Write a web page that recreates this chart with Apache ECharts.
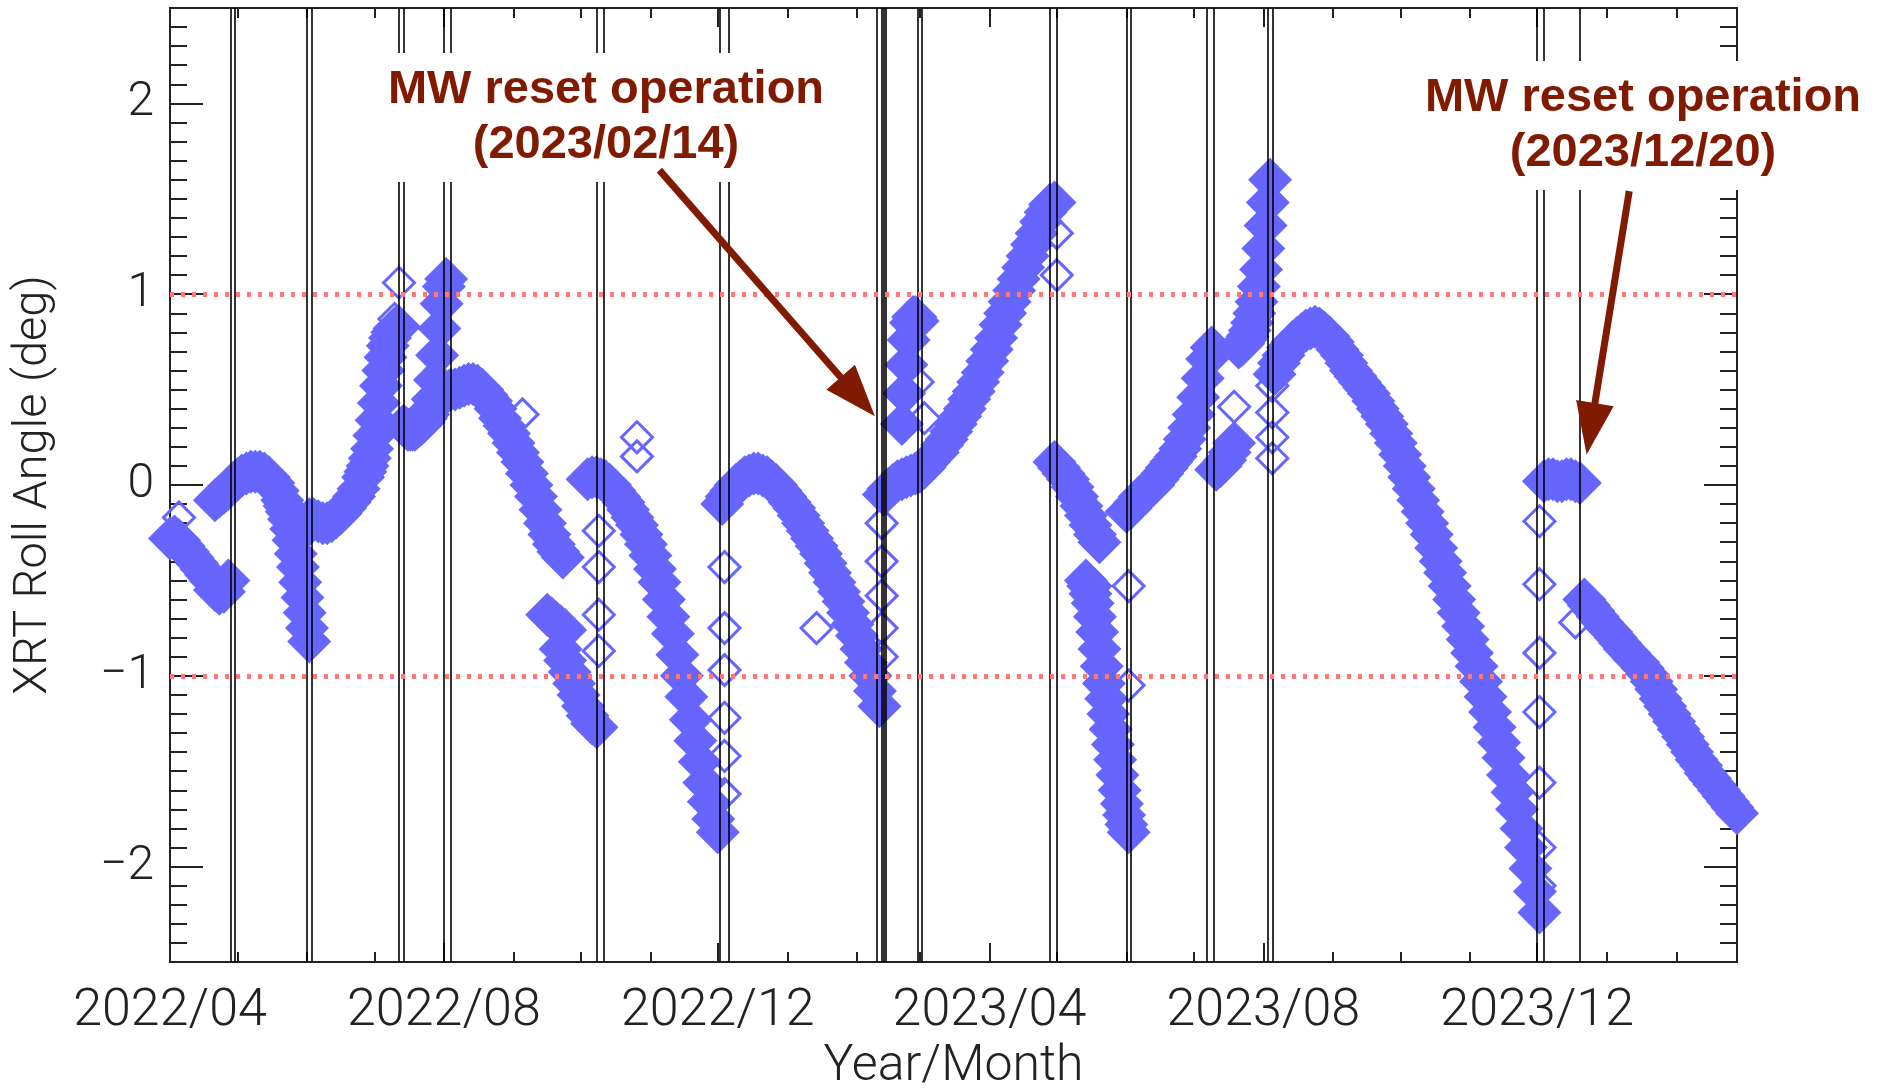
<!DOCTYPE html>
<html>
<head>
<meta charset="utf-8">
<script src="https://cdn.jsdelivr.net/npm/echarts@6.0.0/dist/echarts.min.js"></script>
<style>
html, body { margin: 0; padding: 0; background: #fff; }
#chart { width: 1881px; height: 1088px; }
</style>
</head>
<body>
<div id="chart"></div>
<script>
// axis range and labelled months
var axisStart = '2022-04-01';
var axisEnd = '2024-02-28';
var labelMonths = ['2022-04-01', '2022-08-01', '2022-12-01', '2023-04-01', '2023-08-01', '2023-12-01'];
var yLabels = [-2, -1, 0, 1, 2];
var limitLines = [1, -1];

// black vertical event lines
var eventDates = ['2022-04-28', '2022-04-30', '2022-06-01', '2022-06-03', '2022-07-12', '2022-07-14',
    '2022-08-01', '2022-08-04', '2022-10-08', '2022-10-11', '2022-12-02', '2022-12-06',
    '2023-02-10', '2023-02-12', '2023-02-13', '2023-02-14', '2023-02-28', '2023-03-02',
    '2023-04-28', '2023-05-01', '2023-06-01', '2023-06-03', '2023-07-07', '2023-07-10',
    '2023-08-03', '2023-08-05', '2023-12-01', '2023-12-04', '2023-12-20'];

// roll angle readings: each run starts at a date, one value every step days
var segStart = ['2022-04-01', '2022-04-21', '2022-05-22', '2022-06-02', '2022-06-27', '2022-07-14',
    '2022-08-04', '2022-09-16', '2022-09-22', '2022-10-04', '2022-12-03', '2023-02-13',
    '2023-02-21', '2023-03-03', '2023-04-30', '2023-05-14', '2023-06-01', '2023-07-11',
    '2023-07-21', '2023-08-06', '2023-12-04', '2023-12-22'];
var segStep = [2, 2, 1, 2, 1, 1, 2, 2, 2, 2, 2, 2, 1, 2, 2, 1, 2, 2, 1, 2, 2, 2];
var segValues = [
    [-0.28, -0.27, -0.29, -0.32, -0.35, -0.38, -0.41, -0.44, -0.47, -0.50, -0.55, -0.57, -0.56, -0.50],
    [-0.08, -0.06, -0.04, -0.02, 0.01, 0.03, 0.05, 0.06, 0.07, 0.07, 0.07, 0.06, 0.04, 0.01, -0.03, -0.08],
    [-0.11, -0.14, -0.18, -0.23, -0.29, -0.36, -0.43, -0.51, -0.59, -0.67, -0.75, -0.82],
    [-0.18, -0.18, -0.19, -0.20, -0.20, -0.19, -0.17, -0.15, -0.12, -0.09, -0.06, -0.02, 0.04],
    [0.07, 0.10, 0.14, 0.19, 0.26, 0.34, 0.43, 0.52, 0.60, 0.67, 0.73, 0.77, 0.80, 0.82, 0.83, 0.83],
    [0.31, 0.30, 0.29, 0.29, 0.29, 0.29, 0.30, 0.31, 0.32, 0.33, 0.35, 0.37, 0.40, 0.45, 0.55, 0.68, 0.82, 0.95, 1.04, 1.08],
    [0.50, 0.50, 0.51, 0.52, 0.53, 0.53, 0.52, 0.50, 0.47, 0.44, 0.40, 0.35, 0.31, 0.27, 0.22, 0.17, 0.12, 0.06, 0.00, -0.06, -0.13, -0.20, -0.26, -0.31, -0.35, -0.38],
    [-0.68, -0.70, -0.72, -0.74, -0.76],
    [-0.86, -0.92, -0.98, -1.04, -1.10, -1.16, -1.21, -1.25, -1.27],
    [0.03, 0.04, 0.04, 0.03, 0.02, 0.00, -0.03, -0.06, -0.09, -0.13, -0.17, -0.21, -0.26, -0.31, -0.37, -0.44, -0.51, -0.60, -0.69, -0.78, -0.89, -1.00, -1.11, -1.23, -1.34, -1.45, -1.56, -1.66, -1.75, -1.82],
    [-0.10, -0.06, -0.03, 0.00, 0.02, 0.04, 0.05, 0.06, 0.06, 0.05, 0.04, 0.02, 0.00, -0.03, -0.06, -0.09, -0.12, -0.16, -0.20, -0.24, -0.28, -0.32, -0.36, -0.41, -0.46, -0.51, -0.56, -0.61, -0.67, -0.73, -0.79, -0.86, -0.93, -1.00, -1.08, -1.16],
    [-0.05, -0.02, 0.00, 0.02, 0.03, 0.04, 0.05, 0.06, 0.07],
    [0.32, 0.48, 0.63, 0.76, 0.85, 0.88, 0.88, 0.86],
    [0.09, 0.12, 0.15, 0.17, 0.21, 0.24, 0.28, 0.32, 0.36, 0.40, 0.45, 0.49, 0.54, 0.59, 0.65, 0.71, 0.77, 0.84, 0.90, 0.96, 1.02, 1.08, 1.14, 1.20, 1.26, 1.32, 1.38, 1.43, 1.47, 1.48],
    [0.12, 0.09, 0.06, 0.03, -0.01, -0.06, -0.11, -0.16, -0.21, -0.26, -0.30],
    [-0.50, -0.53, -0.57, -0.62, -0.69, -0.77, -0.86, -0.95, -1.04, -1.12, -1.20, -1.28, -1.36, -1.44, -1.52, -1.60, -1.67, -1.73, -1.78, -1.82],
    [-0.14, -0.12, -0.09, -0.06, -0.04, -0.02, 0.00, 0.03, 0.06, 0.09, 0.12, 0.15, 0.19, 0.24, 0.30, 0.37, 0.46, 0.56, 0.66, 0.72],
    [0.08, 0.10, 0.13, 0.17, 0.22],
    [0.72, 0.73, 0.74, 0.76, 0.78, 0.81, 0.85, 0.90, 0.96, 1.04, 1.13, 1.24, 1.36, 1.48, 1.60],
    [0.58, 0.64, 0.68, 0.72, 0.75, 0.77, 0.79, 0.81, 0.82, 0.83, 0.82, 0.80, 0.78, 0.75, 0.71, 0.68, 0.64, 0.60, 0.57, 0.54,
     0.51, 0.48, 0.44, 0.40, 0.36, 0.32, 0.27, 0.22, 0.16, 0.10, 0.04, -0.02, -0.08, -0.14, -0.20, -0.26, -0.33, -0.40, -0.46, -0.53,
     -0.60, -0.67, -0.74, -0.81, -0.88, -0.95, -1.03, -1.11, -1.19, -1.27, -1.35, -1.43, -1.52, -1.61, -1.70, -1.80, -1.90, -2.01, -2.13, -2.24],
    [0.02, 0.03, 0.03, 0.02, 0.02, 0.03, 0.03, 0.02, 0.01],
    [-0.60, -0.63, -0.66, -0.69, -0.72, -0.75, -0.77, -0.80, -0.83, -0.86, -0.88, -0.91, -0.93, -0.96, -0.99, -1.03, -1.07, -1.12, -1.16, -1.20,
     -1.24, -1.28, -1.32, -1.36, -1.40, -1.44, -1.47, -1.51, -1.54, -1.57, -1.60, -1.63, -1.66, -1.69, -1.72]
];

// isolated (hollow) diamonds
var hollowDates = ['2022-04-05', '2022-07-12', '2022-07-10', '2022-09-05',
    '2022-10-09', '2022-10-09', '2022-10-09', '2022-10-09', '2022-10-26', '2022-10-26',
    '2022-12-04', '2022-12-04', '2022-12-04', '2022-12-04', '2022-12-04', '2022-12-04', '2023-01-14',
    '2023-02-12', '2023-02-12', '2023-02-12', '2023-02-12', '2023-02-12', '2023-02-28', '2023-03-03',
    '2023-05-01', '2023-05-01', '2023-05-18', '2023-06-02', '2023-06-02', '2023-07-19',
    '2023-08-05', '2023-08-05', '2023-08-05', '2023-08-05',
    '2023-12-02', '2023-12-02', '2023-12-02', '2023-12-02', '2023-12-02', '2023-12-02', '2023-12-02', '2023-12-18'];
var hollowValues = [-0.17, 1.06, 0.87, 0.37,
    -0.24, -0.43, -0.68, -0.87, 0.25, 0.15,
    -0.43, -0.75, -0.97, -1.22, -1.42, -1.62, -0.75,
    -0.2, -0.4, -0.58, -0.75, -0.9, 0.54, 0.35,
    1.32, 1.10, -0.53, -0.53, -1.05, 0.41,
    0.52, 0.38, 0.25, 0.14,
    -0.19, -0.52, -0.88, -1.19, -1.56, -1.9, -2.1, -0.72];

// annotations, anchored in data space
var noteTexts = ['MW reset operation\n(2023/02/14)', 'MW reset operation\n(2023/12/20)'];
var arrowFrom = [['2022-11-05', 1.65], ['2024-01-11', 1.54]];
var arrowTo = [['2023-02-09', 0.36], ['2023-12-23', 0.16]];

var DAY = 86400000;
function toTime(s) {
    var p = s.split('-');
    return Date.UTC(+p[0], +p[1] - 1, +p[2]);
}

var tMin = toTime(axisStart);
var tMax = toTime(axisEnd);

var bandData = [];
for (var i = 0; i < segStart.length; i++) {
    var t0 = toTime(segStart[i]);
    for (var j = 0; j < segValues[i].length; j++) {
        bandData.push([t0 + j * segStep[i] * DAY, segValues[i][j]]);
    }
}
var hollowData = hollowDates.map(function (d, k) { return [toTime(d), hollowValues[k]]; });

// month ticks
var monthTicks = [];
var md = new Date(tMin);
while (md.getTime() <= tMax) {
    monthTicks.push(md.getTime());
    md = new Date(Date.UTC(md.getUTCFullYear(), md.getUTCMonth() + 1, 1));
}
var majorX = labelMonths.map(toTime);

var minorY = [];
for (var k = -24; k <= 24; k++) {
    if (k % 10 !== 0) minorY.push(k / 10);
}

var INK = '#222';
var BLUE = '#6666ff';
var RED = '#801a00';
var tickFont = { fontFamily: 'Roboto', fontWeight: 300, color: INK };

function fmtMonth(v) {
    var d = new Date(v);
    var m = d.getUTCMonth() + 1;
    return d.getUTCFullYear() + '/' + (m < 10 ? '0' + m : m);
}
function fmtY(v) {
    return v < 0 ? '\u2212' + Math.abs(v) : String(v);
}

function xAxisCfg(pos, ticks, len, withLabels) {
    var a = {
        type: 'value', position: pos, min: tMin, max: tMax,
        splitLine: { show: false },
        axisLine: { show: true, onZero: false, lineStyle: { color: INK, width: 2 } },
        axisTick: { show: true, inside: true, length: len, customValues: ticks, lineStyle: { color: INK, width: 2 } },
        axisLabel: { show: false }
    };
    if (withLabels) {
        a.axisLabel = Object.assign({ show: true, customValues: ticks, formatter: fmtMonth, fontSize: 52, margin: 24 }, tickFont);
        a.name = 'Year/Month';
        a.nameLocation = 'middle';
        a.nameGap = 74;
        a.nameTextStyle = Object.assign({ fontSize: 50 }, tickFont);
    }
    return a;
}
function yAxisCfg(pos, ticks, len, withLabels) {
    var a = {
        type: 'value', position: pos, min: -2.5, max: 2.5,
        splitLine: { show: false },
        axisLine: { show: true, onZero: false, lineStyle: { color: INK, width: 2 } },
        axisTick: { show: true, inside: true, length: len, customValues: ticks, lineStyle: { color: INK, width: 2 } },
        axisLabel: { show: false }
    };
    if (withLabels) {
        a.axisLabel = Object.assign({ show: true, customValues: ticks, formatter: fmtY, fontSize: 48, margin: 16 }, tickFont);
        a.name = 'XRT Roll Angle (deg)';
        a.nameLocation = 'middle';
        a.nameRotate = 90;
        a.nameGap = 112;
        a.nameTextStyle = Object.assign({ fontSize: 47 }, tickFont);
    }
    return a;
}

var markData = eventDates.map(function (d) {
    return { xAxis: toTime(d), lineStyle: { color: '#000', width: 1.6, type: 'solid' } };
}).concat(limitLines.map(function (v) {
    return { yAxis: v, lineStyle: { color: '#ff7878', width: 5, type: [4, 7] } };
}));

var chart = echarts.init(document.getElementById('chart'));
var option = {
    animation: false,
    backgroundColor: '#fff',
    grid: { left: 170, right: 144, top: 8, bottom: 126, outerBoundsMode: 'none', containLabel: false },
    xAxis: [
        xAxisCfg('bottom', monthTicks, 10, false),
        xAxisCfg('bottom', majorX, 19, true),
        xAxisCfg('top', monthTicks, 10, false),
        xAxisCfg('top', majorX, 19, false)
    ],
    yAxis: [
        yAxisCfg('left', minorY, 17, false),
        yAxisCfg('left', yLabels, 33, true),
        yAxisCfg('right', minorY, 17, false),
        yAxisCfg('right', yLabels, 33, false)
    ],
    series: [
        {
            type: 'scatter', xAxisIndex: 0, yAxisIndex: 0, silent: true,
            symbol: 'diamond', symbolSize: 44,
            itemStyle: { color: BLUE, opacity: 1 },
            data: bandData
        },
        {
            type: 'scatter', xAxisIndex: 0, yAxisIndex: 0, silent: true,
            symbol: 'diamond', symbolSize: 31,
            itemStyle: { color: 'rgba(0,0,0,0)', borderColor: BLUE, borderWidth: 3, opacity: 1 },
            data: hollowData,
            markLine: {
                silent: true, symbol: ['none', 'none'], label: { show: false },
                animation: false, data: markData
            }
        }
    ]
};
chart.setOption(option);

// arrows and notes
var graphics = [];
var notePos = [[606, 53], [1643, 61]];
for (var n = 0; n < noteTexts.length; n++) {
    graphics.push({
        type: 'text', z: 100, x: notePos[n][0], y: notePos[n][1],
        style: {
            text: noteTexts[n], align: 'center', verticalAlign: 'top',
            font: 'bold 47px "Liberation Sans"', fill: RED, lineHeight: 55,
            backgroundColor: '#fff', padding: [10, 8, 9, 8]
        }
    });
    var p0 = chart.convertToPixel({ xAxisIndex: 0, yAxisIndex: 0 }, [toTime(arrowFrom[n][0]), arrowFrom[n][1]]);
    var p1 = chart.convertToPixel({ xAxisIndex: 0, yAxisIndex: 0 }, [toTime(arrowTo[n][0]), arrowTo[n][1]]);
    var dx = p1[0] - p0[0], dy = p1[1] - p0[1];
    var len = Math.sqrt(dx * dx + dy * dy);
    var ux = dx / len, uy = dy / len;
    var headLen = 52, headHalf = 19;
    var bx = p1[0] - ux * headLen, by = p1[1] - uy * headLen;
    graphics.push({
        type: 'line', z: 100,
        shape: { x1: p0[0], y1: p0[1], x2: bx + ux * 4, y2: by + uy * 4 },
        style: { stroke: RED, lineWidth: 7 }
    });
    graphics.push({
        type: 'polygon', z: 100,
        shape: { points: [[p1[0], p1[1]], [bx - uy * headHalf, by + ux * headHalf], [bx + uy * headHalf, by - ux * headHalf]] },
        style: { fill: RED }
    });
}
chart.setOption({ graphic: graphics });
</script>
</body>
</html>
